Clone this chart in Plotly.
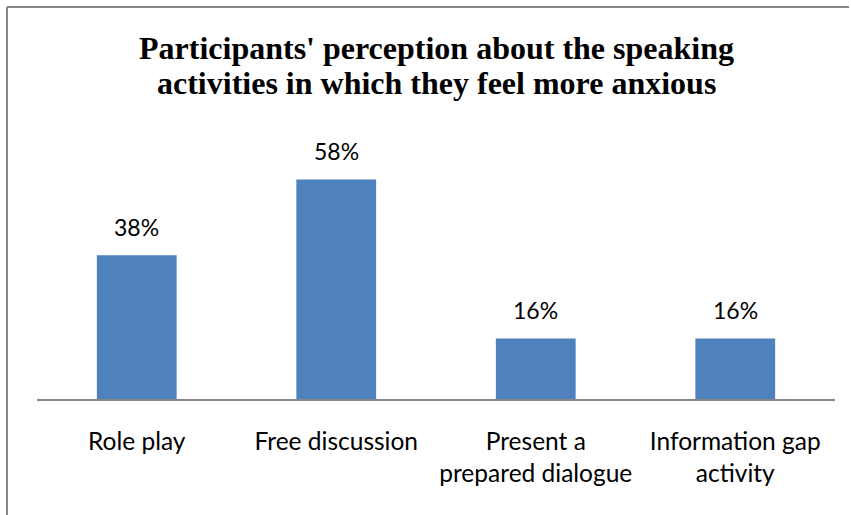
import plotly.graph_objects as go

categories = ["Role play", "Free discussion", "Present a<br>prepared dialogue", "Information gap<br>activity"]
values = [38, 58, 16, 16]
value_labels = ["38%", "58%", "16%", "16%"]
title_lines = ["Participants' perception about the speaking",
               "activities in which they feel more anxious"]

W, H = 851, 515
L, R, T, B = 37, 16, 134, 116
pw = W - L - R
ph = H - T - B
LABEL_FONT = "Lato, Open Sans, sans-serif"
TITLE_FONT = "Liberation Serif, Times New Roman, serif"


def px_x(p):
    return (p - L) / pw


def px_y(p):
    return (H - B - p) / ph


fig = go.Figure()
fig.add_trace(go.Bar(
    x=categories, y=values,
    marker=dict(color="#4f81bd", line=dict(width=0)),
    width=0.4,
    hoverinfo="skip",
))

for c, v, t in zip(categories, values, value_labels):
    fig.add_annotation(x=c, y=v, text=t, showarrow=False, yanchor="bottom", yshift=12,
                       font=dict(family=LABEL_FONT, size=23, color="#000000"))

# chart title (two lines, Office-like line spacing)
for i, line in enumerate(title_lines):
    fig.add_annotation(xref="paper", yref="paper", x=px_x(436), y=px_y(48 + 35 * i),
                       xanchor="center", yanchor="middle", showarrow=False,
                       text="<b>" + line + "</b>",
                       font=dict(family=TITLE_FONT, size=32, color="#000000"))

# outer frame (left and top edges visible)
fig.add_shape(type="line", xref="paper", yref="paper", x0=px_x(7), x1=px_x(7), y0=-2, y1=px_y(7),
              line=dict(color="#878787", width=2))
fig.add_shape(type="line", xref="paper", yref="paper", x0=px_x(7), x1=px_x(849), y0=px_y(7), y1=px_y(7),
              line=dict(color="#878787", width=2))

fig.update_layout(
    width=W, height=H,
    margin=dict(l=L, r=R, t=T, b=B),
    paper_bgcolor="white", plot_bgcolor="white",
    showlegend=False,
    xaxis=dict(showline=True, linecolor="#878787", linewidth=2, ticks="", showgrid=False,
               tickfont=dict(family=LABEL_FONT, size=24.5, color="#000000"),
               ticklabelstandoff=20),
    yaxis=dict(range=[0, 70], visible=False, showgrid=False),
)

fig.write_html("out.html", config={"displayModeBar": False},
               post_script="document.body.style.margin='0';")
